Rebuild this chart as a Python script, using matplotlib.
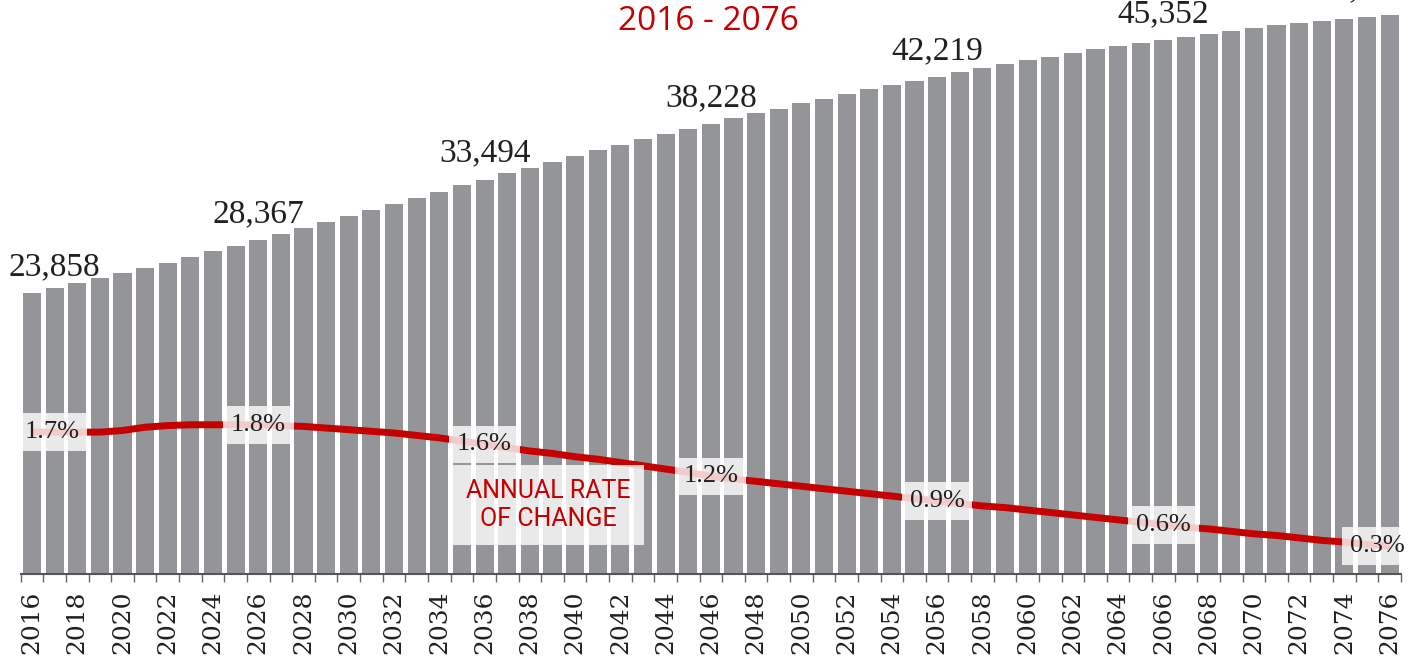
import numpy as np
import matplotlib.pyplot as plt

# population by year, with the annual rate of change (%)
years = list(range(2016, 2077))
population = [23858, 24287, 24686, 25111, 25535, 25986, 26436, 26920, 27404, 27879,
              28367, 28873, 29382, 29892, 30401, 30911, 31447, 31956, 32466, 33008,
              33494, 34027, 34503, 35013, 35497, 36006, 36431, 36915, 37365, 37815,
              38228, 38698, 39123, 39514, 39972, 40363, 40787, 41161, 41526, 41891,
              42219, 42630, 42944, 43284, 43623, 43904, 44243, 44558, 44838, 45093,
              45352, 45628, 45883, 46137, 46341, 46596, 46766, 46961, 47131, 47327,
              47470]
rate = [1.73, 1.73, 1.73, 1.73, 1.75, 1.79, 1.81, 1.82, 1.82, 1.82,
        1.82, 1.81, 1.80, 1.78, 1.76, 1.74, 1.72, 1.69, 1.66, 1.62,
        1.58, 1.54, 1.50, 1.47, 1.43, 1.40, 1.36, 1.32, 1.28, 1.24,
        1.19, 1.16, 1.13, 1.10, 1.07, 1.04, 1.01, 0.98, 0.95, 0.92,
        0.89, 0.86, 0.83, 0.81, 0.78, 0.75, 0.72, 0.69, 0.66, 0.63,
        0.60, 0.57, 0.55, 0.52, 0.49, 0.47, 0.44, 0.41, 0.39, 0.36,
        0.34]
labelled_years = [2016, 2026, 2036, 2046, 2056, 2066, 2076]
rate_labels = ['1.7%', '1.8%', '1.6%', '1.2%', '0.9%', '0.6%', '0.3%']

RED = '#c40000'
GREY = '#939598'
INK = '#231f20'
SERIF = ['Liberation Serif', 'DejaVu Serif']
plt.rcParams['font.family'] = SERIF

W, H = 1427, 656
fig = plt.figure(figsize=(W / 100, H / 100), dpi=100)
ax = fig.add_axes([20.7 / W, 82 / H, 1380.3 / W, 574 / H])

x = np.arange(len(years))
ax.bar(x, population, width=0.8, color=GREY, zorder=1)
ax.set_xlim(-0.5, len(years) - 0.5)
ax.set_ylim(0, 48744)

for s in ['left', 'right', 'top']:
    ax.spines[s].set_visible(False)
ax.spines['bottom'].set_color('#555555')
ax.spines['bottom'].set_linewidth(1.5)
ax.set_yticks([])

ax.set_xticks(x[::2])
ax.set_xticks(np.arange(-0.5, len(years), 1), minor=True)
ax.tick_params(axis='x', which='major', length=0, pad=12)
ax.tick_params(axis='x', which='minor', length=6, width=1, color='#666666')
ax.set_xticklabels([str(y) for y in years[::2]])
for lab in ax.get_xticklabels():
    lab.set_fontfamily('DejaVu Serif')
    lab.set_fontsize(18)
    lab.set_rotation(90)
    lab.set_color(INK)

# population value labels
for k, yr in enumerate(labelled_years):
    i = years.index(yr)
    ha, dx = 'center', 0
    if k == 0:
        ha, dx = 'left', -24
    elif k == len(labelled_years) - 1:
        ha, dx = 'right', 18
    ax.annotate(f'{population[i]:,}', (x[i], population[i]), xytext=(dx, 18),
                textcoords='offset pixels', ha=ha, va='baseline',
                fontsize=24, color=INK, family=SERIF)

# rate of change line
ax2 = ax.twinx()
ax2.set_ylim(0, 7.0)
ax2.axis('off')
ax2.plot(x, rate, color=RED, lw=5, solid_capstyle='butt', solid_joinstyle='round', zorder=2)

for k, yr in enumerate(labelled_years):
    i = years.index(yr)
    dx = 0
    if k == 0:
        dx = 20
    elif k == len(labelled_years) - 1:
        dx = -12
    ax2.annotate(rate_labels[k], (x[i], rate[i]), xytext=(dx, 0),
                 textcoords='offset pixels', ha='center', va='center',
                 fontsize=19, color=INK, family=SERIF, zorder=4,
                 bbox=dict(boxstyle='square,pad=0.3', fc='white', ec='none', alpha=0.8))

ax2.text(22.8, 0.84, 'ANNUAL RATE\nOF CHANGE', ha='center', va='center',
         fontsize=18, color=RED, linespacing=1.25, zorder=4,
         family=['Liberation Sans Narrow', 'Roboto', 'DejaVu Sans'],
         bbox=dict(boxstyle='square,pad=0.55', fc='white', ec='none', alpha=0.8))

fig.text(708 / W, 1 - 22 / H, '2016 - 2076', ha='center', va='center',
         fontsize=24, color=RED, family=['Open Sans', 'DejaVu Sans'])

fig.savefig('out.png', dpi=100)
